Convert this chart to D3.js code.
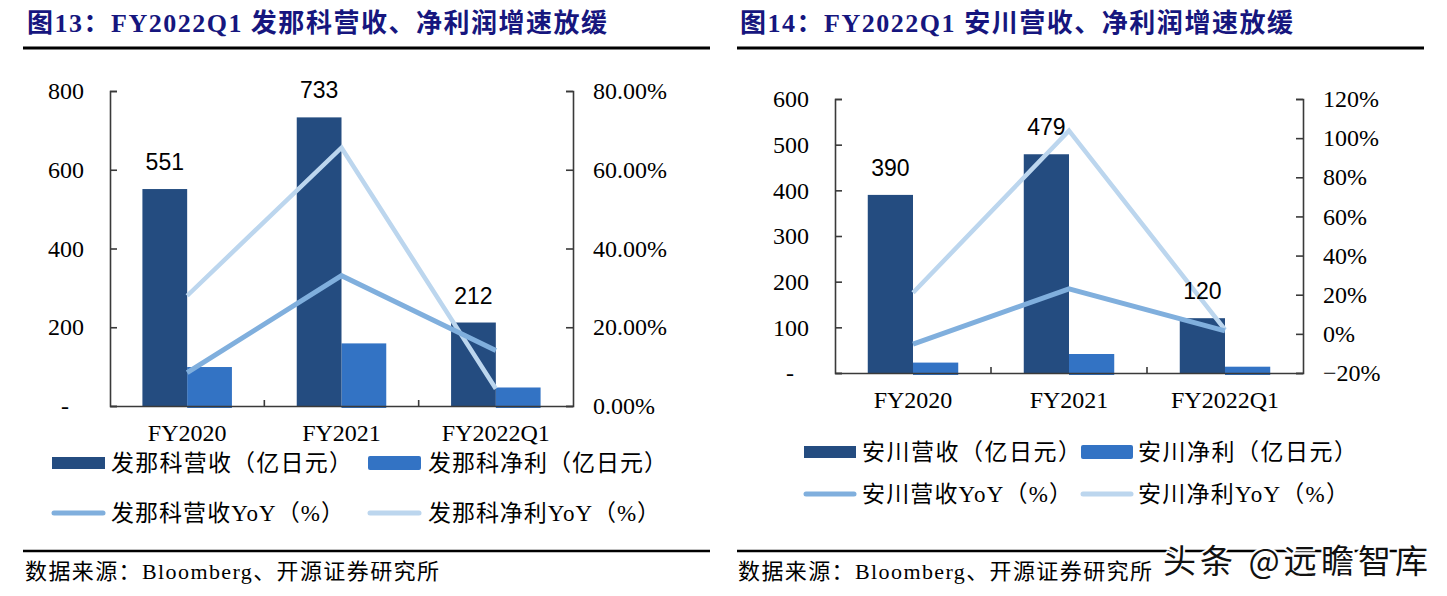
<!DOCTYPE html>
<html><head><meta charset="utf-8">
<script src="https://cdn.jsdelivr.net/npm/d3@7"></script>
<style>
html,body{margin:0;padding:0;background:#fff;}
svg{display:block;}
</style></head>
<body>
<svg id="c" width="1447" height="596"></svg>
<script>
// ---------- data ----------
const categories = ["FY2020", "FY2021", "FY2022Q1"];

const fanucRevenue = [551, 733, 212];
const fanucProfit = [99, 159, 47];
const fanucRevenueYoY = [0.085, 0.331, 0.141];
const fanucProfitYoY = [0.28, 0.656, 0.044];
const fanucLeftTicks = [0, 200, 400, 600, 800];
const fanucRightTicks = [0, 0.2, 0.4, 0.6, 0.8];

const yaskawaRevenue = [390, 479, 120];
const yaskawaProfit = [22.8, 41.6, 13.8];
const yaskawaRevenueYoY = [-0.053, 0.23, 0.015];
const yaskawaProfitYoY = [0.21, 1.038, 0.022];
const yaskawaLeftTicks = [0, 100, 200, 300, 400, 500, 600];
const yaskawaRightTicks = [-0.2, 0, 0.2, 0.4, 0.6, 0.8, 1.0, 1.2];

const titles = ["图13：FY2022Q1 发那科营收、净利润增速放缓", "图14：FY2022Q1 安川营收、净利润增速放缓"];
const legendFanuc = ["发那科营收（亿日元）", "发那科净利（亿日元）", "发那科营收YoY（%）", "发那科净利YoY（%）"];
const legendYaskawa = ["安川营收（亿日元）", "安川净利（亿日元）", "安川营收YoY（%）", "安川净利YoY（%）"];
const sourceText = "数据来源：Bloomberg、开源证券研究所";
const watermark = "头条 @远瞻智库";

// ---------- style ----------
const C = {dark: "#244c80", blue: "#3373c4", revLine: "#80afdd", npLine: "#bcd6ee", title: "#16167e", axis: "#3a3a3a"};
const SERIF = "'Liberation Serif','Times New Roman','Noto Sans CJK SC',serif";
const SANS = "'Liberation Sans',Arial,sans-serif";

const svg = d3.select("#c");

function panel(cfg) {
  const g = svg.append("g");
  // title
  g.append("text").attr("x", cfg.titleX).attr("y", 32)
    .attr("font-family", SERIF).attr("font-weight", "bold").attr("font-size", 26)
    .attr("fill", C.title).attr("textLength", cfg.titleLen).attr("lengthAdjust", "spacing").text(cfg.title);
  g.append("line").attr("x1", cfg.ruleX[0]).attr("x2", cfg.ruleX[1]).attr("y1", 48).attr("y2", 48)
    .attr("stroke", "#000").attr("stroke-width", 3);

  const x = d3.scaleBand().domain(categories).range([cfg.xL, cfg.xR]).padding(0);
  const bw = x.bandwidth();
  const yL = d3.scaleLinear().domain([0, cfg.leftTicks[cfg.leftTicks.length - 1]]).range([cfg.yBase, cfg.yTop]);
  const yR = d3.scaleLinear().domain([cfg.rightTicks[0], cfg.rightTicks[cfg.rightTicks.length - 1]]).range([cfg.yBase, cfg.yTop]);
  const sub = d3.scaleBand().domain(["rev", "np"]).range([bw * 0.21, bw * 0.79]);

  // bars
  const rows = categories.map((c, i) => ({c, rev: cfg.rev[i], np: cfg.np[i], ry: cfg.revYoY[i], py: cfg.npYoY[i]}));
  g.selectAll(".bnp").data(rows).join("rect")
    .attr("x", d => x(d.c) + sub("np")).attr("width", sub.bandwidth())
    .attr("y", d => yL(d.np)).attr("height", d => yL(0) - yL(d.np) + 2)
    .attr("fill", C.blue);
  g.selectAll(".brev").data(rows).join("rect")
    .attr("x", d => x(d.c) + sub("rev")).attr("width", sub.bandwidth())
    .attr("y", d => yL(d.rev)).attr("height", d => yL(0) - yL(d.rev))
    .attr("fill", C.dark);

  // axes
  const axL = d3.axisLeft(yL).tickValues(cfg.leftTicks).tickSize(-7).tickPadding(26)
    .tickFormat(d => d === 0 ? "-" : d3.format("d")(d));
  const gL = g.append("g").attr("transform", `translate(${cfg.xL},0)`).call(axL);
  const axR = d3.axisRight(yR).tickValues(cfg.rightTicks).tickSize(-7).tickPadding(20).tickFormat(d3.format(cfg.rightFmt));
  const gR = g.append("g").attr("transform", `translate(${cfg.xR},0)`).call(axR);
  const axB = d3.axisBottom(x).tickSize(0).tickPadding(18);
  const gB = g.append("g").attr("transform", `translate(0,${cfg.yBase})`).call(axB);
  [gL, gR, gB].forEach(a => {
    a.select(".domain").attr("stroke", C.axis).attr("stroke-width", 1.6);
    a.selectAll(".tick line").attr("stroke", C.axis).attr("stroke-width", 1.6);
    a.selectAll("text").attr("font-family", SERIF).attr("font-size", 24).attr("fill", "#000");
  });
  gL.selectAll(".tick").filter(d => d === 0).select("text").attr("dx", -15);
  gB.selectAll("text").attr("dy", "0.71em");
  // category boundary ticks
  g.selectAll(".bt").data(categories.slice(1)).join("line")
    .attr("x1", d => x(d)).attr("x2", d => x(d))
    .attr("y1", cfg.yBase).attr("y2", cfg.yBase - 6)
    .attr("stroke", C.axis).attr("stroke-width", 1.6);

  // lines
  const lineRev = d3.line().x(d => x(d.c) + bw / 2).y(d => yR(d.ry));
  const lineNp = d3.line().x(d => x(d.c) + bw / 2).y(d => yR(d.py));
  g.append("path").attr("d", lineNp(rows)).attr("fill", "none").attr("stroke", C.npLine).attr("stroke-width", 4.5);
  g.append("path").attr("d", lineRev(rows)).attr("fill", "none").attr("stroke", C.revLine).attr("stroke-width", 5);

  // data labels
  g.selectAll(".dl").data(rows).join("text")
    .attr("x", d => x(d.c) + sub("rev") + sub.bandwidth() / 2)
    .attr("y", d => yL(d.rev) - 19)
    .attr("text-anchor", "middle").attr("font-family", SANS).attr("font-size", 23).attr("fill", "#000")
    .text(d => d3.format("d")(d.rev));

  // legend
  const L = cfg.legend;
  const lg = g.append("g").attr("font-family", SERIF).attr("font-size", 23).attr("fill", "#000");
  lg.append("rect").attr("x", L.sx[0]).attr("y", L.y1 - 6).attr("width", L.sw).attr("height", 12).attr("fill", C.dark);
  lg.append("rect").attr("x", L.sx[1]).attr("y", L.y1 - 7).attr("width", L.sw).attr("height", 14).attr("rx", 2).attr("fill", C.blue);
  lg.append("line").attr("x1", L.sx[0] + 2).attr("x2", L.sx[0] + L.sw - 2).attr("y1", L.y2).attr("y2", L.y2)
    .attr("stroke", C.revLine).attr("stroke-width", 5).attr("stroke-linecap", "round");
  lg.append("line").attr("x1", L.sx[1] + 2).attr("x2", L.sx[1] + L.sw - 2).attr("y1", L.y2).attr("y2", L.y2)
    .attr("stroke", C.npLine).attr("stroke-width", 5).attr("stroke-linecap", "round");
  const pos = [[L.tx[0], L.y1], [L.tx[1], L.y1], [L.tx[0], L.y2], [L.tx[1], L.y2]];
  lg.selectAll(".lt").data(cfg.legendText).join("text")
    .attr("x", (d, i) => pos[i][0]).attr("y", (d, i) => pos[i][1]).attr("dy", "0.36em")
    .attr("textLength", (d, i) => L.len[i]).attr("lengthAdjust", "spacing").text(d => d);

  // source
  g.append("line").attr("x1", cfg.ruleX[0]).attr("x2", cfg.ruleX[1]).attr("y1", 551).attr("y2", 551)
    .attr("stroke", "#000").attr("stroke-width", 2.5);
  g.append("text").attr("x", cfg.srcX).attr("y", 571).attr("dy", "0.36em")
    .attr("font-family", SERIF).attr("font-size", 22).attr("fill", "#000")
    .attr("textLength", 414).attr("lengthAdjust", "spacing").text(sourceText);
}

panel({
  title: titles[0], titleX: 27, titleLen: 580, ruleX: [23, 710], srcX: 25,
  xL: 110, xR: 573, yTop: 91, yBase: 406,
  leftTicks: fanucLeftTicks, rightTicks: fanucRightTicks, rightFmt: ".2%",
  rev: fanucRevenue, np: fanucProfit, revYoY: fanucRevenueYoY, npYoY: fanucProfitYoY,
  legendText: legendFanuc,
  legend: {sx: [52, 368], sw: 53, tx: [111, 428], y1: 463, y2: 513, len: [241, 239, 233, 232]}
});
panel({
  title: titles[1], titleX: 740, titleLen: 553, ruleX: [737, 1424], srcX: 738,
  xL: 835, xR: 1303, yTop: 99, yBase: 373,
  leftTicks: yaskawaLeftTicks, rightTicks: yaskawaRightTicks, rightFmt: ".0%",
  rev: yaskawaRevenue, np: yaskawaProfit, revYoY: yaskawaRevenueYoY, npYoY: yaskawaProfitYoY,
  legendText: legendYaskawa,
  legend: {sx: [804, 1081], sw: 52, tx: [862, 1138], y1: 452, y2: 494, len: [219, 219, 210, 211]}
});

// watermark
svg.append("text").attr("x", 1163).attr("y", 561).attr("dy", "0.36em")
  .attr("font-family", "'Noto Sans CJK SC',sans-serif").attr("font-size", 33)
  .attr("fill", "#111").attr("stroke", "#fff").attr("stroke-width", 4).attr("paint-order", "stroke")
  .attr("textLength", 265).attr("lengthAdjust", "spacing")
  .text(watermark);
</script>
</body></html>
